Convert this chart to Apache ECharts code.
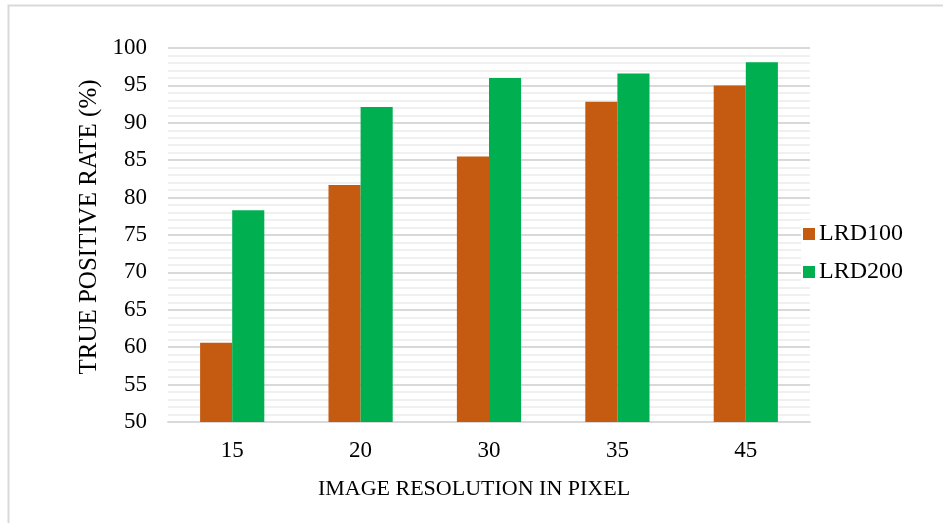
<!DOCTYPE html>
<html>
<head>
<meta charset="utf-8">
<script src="https://cdn.jsdelivr.net/npm/echarts@6/dist/echarts.min.js"></script>
<style>
  html, body { margin: 0; padding: 0; background: #fff; }
  #chart { width: 943px; height: 523px; }
</style>
</head>
<body>
<div id="chart"></div>
<script>
// Image resolution categories (pixels)
const categories = ['15', '20', '30', '35', '45'];
// True positive rate (%) per detector
const lrd100 = [60.6, 81.7, 85.5, 92.8, 95.0];
const lrd200 = [78.3, 92.1, 96.0, 96.6, 98.1];
const seriesNames = ['LRD100', 'LRD200'];

const FONT = '"Liberation Serif", "Times New Roman", serif';
const chart = echarts.init(document.getElementById('chart'));

chart.setOption({
  animation: false,
  backgroundColor: '#fff',
  graphic: [{
    type: 'rect',
    shape: { x: 8.5, y: 5.5, width: 960, height: 560 },
    style: { fill: 'none', stroke: '#d9d9d9', lineWidth: 2 },
    silent: true
  }],
  grid: { left: 168, right: 133, top: 48, bottom: 101, containLabel: false },
  legend: {
    orient: 'vertical',
    left: 801,
    top: 220,
    padding: [2, 6, 2, 2],
    backgroundColor: '#fff',
    itemWidth: 12,
    itemHeight: 12,
    itemGap: 14,
    icon: 'rect',
    textStyle: { fontFamily: FONT, fontSize: 24, color: '#000', padding: [0, 0, 0, -1] },
    data: seriesNames
  },
  xAxis: {
    type: 'category',
    data: categories,
    name: 'IMAGE RESOLUTION IN PIXEL',
    nameLocation: 'middle',
    nameGap: 56,
    nameTextStyle: { fontFamily: FONT, fontSize: 22, color: '#000', padding: [0, 30, 0, 0] },
    axisLine: { lineStyle: { color: '#d9d9d9', width: 2 } },
    axisTick: { show: false },
    axisLabel: { fontFamily: FONT, fontSize: 23, color: '#000', margin: 17 }
  },
  yAxis: {
    type: 'value',
    min: 50,
    max: 100,
    interval: 5,
    name: 'TRUE POSITIVE RATE (%)',
    nameLocation: 'middle',
    nameGap: 66,
    nameTextStyle: { fontFamily: FONT, fontSize: 25, color: '#000', padding: [0, 0, 0, 16] },
    axisLine: { show: false },
    axisTick: { show: false },
    axisLabel: { fontFamily: FONT, fontSize: 23, color: '#000', margin: 21 },
    splitLine: { lineStyle: { color: '#d9d9d9', width: 2 } },
    minorTick: { show: false, splitNumber: 5 },
    minorSplitLine: { show: true, lineStyle: { color: '#f0f0f0', width: 2 } }
  },
  series: [
    {
      name: seriesNames[0],
      type: 'bar',
      data: lrd100,
      barWidth: '25%',
      barGap: '0%',
      itemStyle: { color: '#C55A11' }
    },
    {
      name: seriesNames[1],
      type: 'bar',
      data: lrd200,
      barWidth: '25%',
      barGap: '0%',
      itemStyle: { color: '#00B050' }
    }
  ]
});
</script>
</body>
</html>
